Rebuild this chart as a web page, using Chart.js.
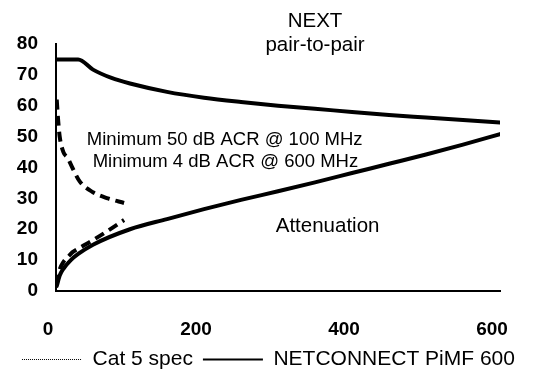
<!DOCTYPE html>
<html>
<head>
<meta charset="utf-8">
<script src="https://cdn.jsdelivr.net/npm/chart.js@4"></script>
<style>
  html, body { margin: 0; padding: 0; background: #fff; }
  #wrap { width: 537px; height: 380px; }
</style>
</head>
<body>
<div id="wrap"><canvas id="acrChart"></canvas></div>
<script>
// frequency (MHz) and dB values
const freqNext = [1, 10, 20, 30, 50, 75, 100, 150, 200, 250, 300, 350, 400, 450, 500, 550, 600];
const pimfNext = [75, 75, 75, 75, 71.7, 69, 67.2, 64.5, 62.6, 61.2, 60, 59, 58, 57, 56.2, 55.4, 54.6];

const freqAtt = [1, 5, 10, 20, 30, 50, 100, 150, 200, 250, 300, 350, 400, 450, 500, 550, 600];
const pimfAtt = [1.6, 5, 7.2, 10, 12, 15, 20, 23.3, 26.5, 29.5, 32.3, 35.2, 38.2, 41.2, 44.2, 47.4, 50.8];

const freqCat5 = [1, 3, 5, 10, 16, 22, 32, 50, 70, 92];
const cat5Next = [62, 55, 50, 45, 43, 40, 35.5, 32, 30, 28.5];
const cat5Att = [2, 5, 7, 9.4, 11, 12.5, 14, 16.5, 19.5, 23];

const xTicks = [0, 200, 400, 600];
const yTicks = [0, 10, 20, 30, 40, 50, 60, 70, 80];

const legendNames = ['Cat 5 spec', 'NETCONNECT PiMF 600'];

// text notes placed in data units
const notes = [
  { text: 'NEXT', x: 350, y: 87.4, size: 20.5 },
  { text: 'pair-to-pair', x: 350, y: 79.7, size: 20.5 },
  { text: 'Minimum 50 dB ACR @ 100 MHz', x: 228, y: 48.9, size: 18.5 },
  { text: 'Minimum 4 dB ACR @ 600 MHz', x: 229, y: 41.8, size: 18.5 },
  { text: 'Attenuation', x: 367, y: 21, size: 20.5 }
];

const FONT = '"Liberation Sans", Arial, sans-serif';

function pts(xs, ys) {
  return xs.map((x, i) => ({ x: x, y: ys[i] }));
}

const notesPlugin = {
  id: 'notes',
  afterDatasetsDraw(chart) {
    const c = chart.ctx;
    const sx = chart.scales.x, sy = chart.scales.y;
    c.save();
    c.fillStyle = '#000';
    c.textAlign = 'center';
    c.textBaseline = 'middle';
    notes.forEach(n => {
      c.font = n.size + 'px ' + FONT;
      c.fillText(n.text, sx.getPixelForValue(n.x), sy.getPixelForValue(n.y));
    });
    c.restore();
  }
};

const dashed = { borderColor: '#000', borderWidth: 4, borderDash: [10, 6], pointRadius: 0, fill: false, cubicInterpolationMode: 'monotone' };
const solid = { borderColor: '#000', borderWidth: 4, pointRadius: 0, fill: false, cubicInterpolationMode: 'monotone', borderCapStyle: 'round' };

new Chart(document.getElementById('acrChart'), {
  type: 'line',
  data: {
    datasets: [
      Object.assign({ label: 'Cat 5 NEXT', data: pts(freqCat5, cat5Next) }, dashed),
      Object.assign({ label: 'Cat 5 attenuation', data: pts(freqCat5, cat5Att) }, dashed),
      Object.assign({ label: 'PiMF NEXT', data: pts(freqNext, pimfNext) }, solid),
      Object.assign({ label: 'PiMF attenuation', data: pts(freqAtt, pimfAtt) }, solid)
    ]
  },
  options: {
    responsive: true,
    maintainAspectRatio: false,
    animation: false,
    layout: { padding: { top: 44, right: 0, left: 0, bottom: 0 } },
    scales: {
      x: {
        type: 'linear',
        min: 0,
        max: 600,
        afterBuildTicks: s => { s.ticks = xTicks.map(v => ({ value: v })); },
        // tick padding would otherwise eat into the right margin
        afterFit: s => { s.height = 48; s.paddingRight = 10; s.paddingLeft = 10; },
        grid: { display: false, drawTicks: false },
        border: { color: '#000', width: 2 },
        ticks: { color: '#000', padding: 27, labelOffset: -8, font: { family: FONT, size: 19, weight: 'bold' } }
      },
      y: {
        min: 0,
        max: 80,
        afterBuildTicks: s => { s.ticks = yTicks.map(v => ({ value: v })); },
        afterFit: s => { s.width = 56; },
        grid: { display: false, drawTicks: false },
        border: { color: '#000', width: 2 },
        ticks: { color: '#000', padding: 18, font: { family: FONT, size: 19, weight: 'bold' } }
      },
      // empty right-hand spacer so the legend can use the full width
      spacer: {
        position: 'right',
        min: 0,
        max: 80,
        afterFit: s => { s.width = 37; },
        grid: { display: false, drawTicks: false },
        border: { display: false },
        ticks: { display: false }
      }
    },
    plugins: {
      tooltip: { enabled: false },
      legend: {
        position: 'bottom',
        labels: {
          usePointStyle: true,
          pointStyleWidth: 60,
          padding: 10,
          color: '#000',
          font: { family: FONT, size: 21 },
          generateLabels: () => [
            { text: legendNames[0], strokeStyle: '#000', fillStyle: 'rgba(0,0,0,0)', lineWidth: 1, lineDash: [1, 1], pointStyle: 'line', datasetIndex: 0, hidden: false, fontColor: '#000' },
            { text: legendNames[1], strokeStyle: '#000', fillStyle: 'rgba(0,0,0,0)', lineWidth: 2, lineDash: [], pointStyle: 'line', datasetIndex: 2, hidden: false, fontColor: '#000' }
          ]
        }
      }
    }
  },
  plugins: [notesPlugin]
});
</script>
</body>
</html>
